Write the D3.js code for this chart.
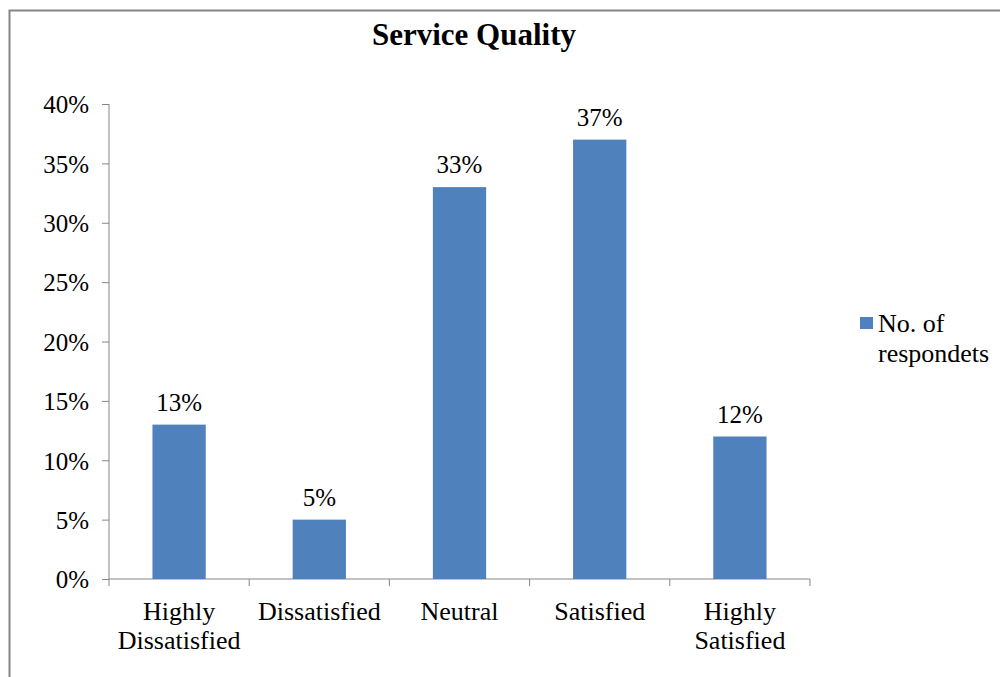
<!DOCTYPE html>
<html><head><meta charset="utf-8">
<script src="https://cdn.jsdelivr.net/npm/d3@7"></script>
<style>body{margin:0;background:#fff}svg{display:block}text{font-family:"Liberation Serif","Times New Roman",serif;fill:#000}</style>
</head><body>
<script>
const categories = [["Highly","Dissatisfied"],["Dissatisfied"],["Neutral"],["Satisfied"],["Highly","Satisfied"]];
const values = [13, 5, 33, 37, 12];
const yTicks = [0,5,10,15,20,25,30,35,40];
const title = "Service Quality";
const seriesName = ["No. of","respondets"];

const W=1000,H=677;
const svg=d3.select("body").append("svg").attr("width",W).attr("height",H);
svg.append("rect").attr("x",9.5).attr("y",10.5).attr("width",1010).attr("height",700).attr("fill","none").attr("stroke","#868686").attr("stroke-width",2);

const x0=109,x1=810,yTop=104,yBot=579;
const x=d3.scaleBand().domain(d3.range(values.length)).range([x0,x1]).paddingInner(0.62).paddingOuter(0.31);
const y=d3.scaleLinear().domain([0,40]).range([yBot,yTop]);

svg.append("text").attr("x",474).attr("y",45).attr("text-anchor","middle").attr("font-size",31).attr("font-weight","bold").text(title);

// y axis
const ya=svg.append("g").attr("transform",`translate(${x0},0)`).call(d3.axisLeft(y).tickValues(yTicks).tickFormat(d=>d+"%").tickSizeOuter(0).tickSize(7).tickPadding(13));
ya.selectAll("path,line").attr("stroke","#868686");
ya.select(".domain").attr("d",`M0,${yTop}V${yBot}`);
ya.selectAll("text").attr("font-size",25).attr("fill","#000").attr("dy","0.35em");

// x axis
const xb=d3.scaleLinear().domain([0,values.length]).range([x0,x1]);
const xa=svg.append("g").attr("transform",`translate(0,${yBot})`);
xa.append("line").attr("x1",x0).attr("x2",x1).attr("stroke","#868686");
xa.selectAll("line.t").data(d3.range(values.length+1)).join("line").attr("class","t")
 .attr("x1",d=>xb(d)).attr("x2",d=>xb(d)).attr("y1",0).attr("y2",7).attr("stroke","#868686");
xa.selectAll("text").data(categories).join("text")
 .attr("x",(d,i)=>xb(i+0.5)).attr("y",41).attr("text-anchor","middle").attr("font-size",26)
 .each(function(d){const t=d3.select(this);d.forEach((s,k)=>t.append("tspan").attr("x",t.attr("x")).attr("dy",k?29:0).text(s));});

svg.selectAll("rect.bar").data(values).join("rect").attr("class","bar")
 .attr("x",(d,i)=>x(i)).attr("width",x.bandwidth()).attr("y",d=>y(d)).attr("height",d=>yBot-y(d)).attr("fill","#4F81BD");
svg.selectAll("text.lab").data(values).join("text").attr("class","lab")
 .attr("x",(d,i)=>x(i)+x.bandwidth()/2).attr("y",d=>y(d)-14).attr("text-anchor","middle").attr("font-size",25).text(d=>d+"%");

// legend
svg.append("rect").attr("x",860).attr("y",317).attr("width",13).attr("height",12).attr("fill","#4F81BD");
const lt=svg.append("text").attr("x",878).attr("y",332).attr("font-size",26);
seriesName.forEach((s,k)=>lt.append("tspan").attr("x",878).attr("dy",k?30:0).text(s));
</script>
</body></html>
